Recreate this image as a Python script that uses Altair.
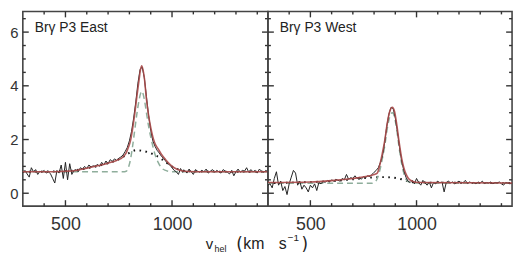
import altair as alt
import pandas as pd

# velocity grid of the spectra (km/s)
vel = list(range(300, 1460, 10))

east_flux = [0.75, 0.85, 0.72, 0.60, 0.95, 0.80, 0.88, 0.70, 0.82, 0.78, 0.85, 0.75, 0.80, 0.72, 0.55,
             0.38, 0.85, 0.75, 1.05, 0.55, 1.15, 0.50, 1.10, 0.70, 0.85, 0.88, 0.80, 0.95, 0.90, 1.00,
             0.92, 1.05, 0.98, 1.02, 1.00, 1.08, 1.00, 1.15, 1.05, 1.20, 1.10, 1.25, 1.18, 1.28, 1.22,
             1.30, 1.35, 1.42, 1.55, 1.70, 1.95, 2.30, 2.80, 3.40, 4.10, 4.60, 4.70, 4.30, 3.60, 2.90,
             2.35, 1.95, 1.75, 1.60, 1.50, 1.38, 1.30, 1.20, 1.10, 1.05, 0.95, 0.85, 0.80, 0.70, 0.92,
             0.78, 0.85, 0.75, 0.90, 0.80, 0.70, 0.88, 0.82, 0.78, 0.85, 0.80, 0.90, 0.75, 0.82, 0.88,
             0.78, 0.85, 0.80, 0.75, 0.88, 0.82, 0.78, 0.72, 0.85, 0.65, 0.80, 0.90, 0.78, 0.85, 0.82,
             0.95, 0.78, 0.88, 0.80, 0.85, 0.75, 0.90, 0.82, 0.78, 0.85, 0.80]

west_flux = [0.30, 0.35, 0.20, 0.55, 0.80, 0.30, 0.45, 0.10, 0.25, -0.05, 0.35, 0.60, 0.85, 0.75, 0.30,
             0.45, 0.15, 0.30, 0.20, 0.05, 0.30, 0.20, 0.35, 0.10, 0.40, 0.35, 0.45, 0.40, 0.48, 0.42,
             0.50, 0.45, 0.52, 0.48, 0.45, 0.55, 0.50, 0.70, 0.52, 0.58, 0.55, 0.65, 0.55, 0.60, 0.52,
             0.62, 0.58, 0.65, 0.62, 0.70, 0.78, 0.85, 0.95, 1.15, 1.40, 1.90, 2.50, 2.95, 3.20, 3.15,
             2.80, 2.30, 1.70, 1.20, 0.85, 0.60, 0.45, 0.40, 0.48, 0.35, 0.55, 0.40, 0.30, 0.48, 0.38,
             0.30, 0.42, 0.20, 0.40, 0.35, 0.45, 0.38, 0.42, 0.05, 0.40, 0.45, 0.38, 0.42, 0.35, 0.40,
             0.45, 0.38, 0.40, 0.48, 0.36, 0.42, 0.38, 0.40, 0.35, 0.42, 0.38, 0.45, 0.36, 0.40, 0.38,
             0.42, 0.35, 0.40, 0.38, 0.42, 0.35, 0.30, 0.40, 0.38, 0.35, 0.38]

# total fit (red)
east_fit_v = [300, 400, 500, 550, 600, 650, 700, 740, 770, 785, 795, 805, 815, 825, 835, 845, 852, 858,
              870, 880, 890, 900, 910, 920, 935, 950, 970, 990, 1010, 1040, 1080, 1150, 1450]
east_fit_f = [0.80, 0.80, 0.82, 0.85, 0.93, 1.02, 1.12, 1.22, 1.35, 1.50, 1.70, 1.95, 2.40, 2.95, 3.60,
              4.20, 4.60, 4.75, 4.30, 3.50, 2.90, 2.45, 2.10, 1.85, 1.65, 1.45, 1.25, 1.08, 0.95, 0.85,
              0.81, 0.80, 0.80]
# narrow component (dashed)
east_nar_v = [300, 770, 785, 795, 805, 815, 825, 835, 845, 852, 858, 870, 880, 890, 900, 910, 920, 935,
              950, 970, 990, 1010, 1450]
east_nar_f = [0.80, 0.80, 0.82, 0.95, 1.25, 1.75, 2.35, 2.95, 3.45, 3.70, 3.80, 3.50, 3.00, 2.50, 2.10,
              1.75, 1.45, 1.15, 0.95, 0.85, 0.81, 0.80, 0.80]
# broad component (dotted)
east_brd_v = [300, 500, 600, 700, 760, 800, 830, 860, 890, 920, 950, 980, 1010, 1050, 1100, 1450]
east_brd_f = [0.80, 0.82, 0.93, 1.12, 1.30, 1.50, 1.60, 1.58, 1.52, 1.42, 1.28, 1.10, 0.95, 0.85, 0.81, 0.80]

west_fit_v = [300, 500, 600, 700, 760, 800, 815, 827, 838, 850, 862, 874, 886, 896, 906, 918, 930, 940,
              950, 962, 980, 1010, 1450]
west_fit_f = [0.40, 0.42, 0.47, 0.55, 0.62, 0.70, 0.75, 1.05, 1.45, 1.95, 2.60, 3.05, 3.20, 3.05, 2.60,
              1.90, 1.30, 0.95, 0.72, 0.55, 0.45, 0.40, 0.38]
west_nar_v = [300, 790, 805, 815, 827, 838, 850, 862, 874, 886, 896, 906, 918, 930, 940, 950, 962, 980,
              1450]
west_nar_f = [0.37, 0.37, 0.42, 0.55, 0.85, 1.25, 1.75, 2.40, 2.85, 3.00, 2.85, 2.40, 1.70, 1.10, 0.75,
              0.52, 0.42, 0.38, 0.37]
west_brd_v = [300, 600, 700, 780, 840, 890, 930, 960, 1000, 1450]
west_brd_f = [0.38, 0.45, 0.52, 0.58, 0.60, 0.58, 0.52, 0.45, 0.40, 0.38]

titles = ["Brγ P3  East", "Brγ P3  West"]
x_major = [500, 1000]
x_minor = [400, 600, 700, 800, 900, 1100, 1200, 1300, 1400]
y_major = [0, 2, 4, 6]
y_minor = [0.5, 1, 1.5, 2.5, 3, 3.5, 4.5, 5, 5.5, 6.5]

H = 197
FONT = "Liberation Sans"


def panel(flux, fit_v, fit_f, nar_v, nar_f, brd_v, brd_f, title, show_y, W, with_xtitle):
    xscale = alt.Scale(domain=[300, 1450], nice=False, zero=False)
    yscale = alt.Scale(domain=[-0.48, 6.77], nice=False, zero=False)
    xaxis = alt.Axis(values=x_major, ticks=False, domain=False, grid=False, title=None, format="d",
                     labelFontSize=18, labelPadding=10, labelFont=FONT, labelColor="#333")
    if show_y:
        yaxis = alt.Axis(values=y_major, ticks=False, domain=False, grid=False, title=None,
                         labelFontSize=15, labelPadding=5, labelFont=FONT, labelColor="#333", format="d")
    else:
        yaxis = None
    X = alt.X("v:Q", scale=xscale, axis=xaxis)
    Y = alt.Y("f:Q", scale=yscale, axis=yaxis)
    Xn = alt.X("v:Q", scale=xscale)
    Yn = alt.Y("f:Q", scale=yscale)

    brd = alt.Chart(pd.DataFrame({"v": brd_v, "f": brd_f})).mark_line(
        color="#111", strokeDash=[1.6, 4.5], strokeWidth=2, interpolate="monotone").encode(x=X, y=Y)
    nar = alt.Chart(pd.DataFrame({"v": nar_v, "f": nar_f})).mark_line(
        color="#8fae9c", strokeDash=[6, 4], strokeWidth=1.5, interpolate="monotone").encode(x=Xn, y=Yn)
    dat = alt.Chart(pd.DataFrame({"v": vel, "f": flux})).mark_line(
        color="#222", strokeWidth=1).encode(x=Xn, y=Yn)
    fit = alt.Chart(pd.DataFrame({"v": fit_v, "f": fit_f})).mark_line(
        color="#a84848", strokeWidth=1.6, opacity=0.9, interpolate="monotone").encode(x=Xn, y=Yn)

    tick_col = "#333"
    xmaj = pd.DataFrame({"v": x_major})
    xmin = pd.DataFrame({"v": x_minor})
    ymaj = pd.DataFrame({"f": y_major})
    ymin = pd.DataFrame({"f": y_minor})
    ticks = []
    for df, L in [(xmaj, 6), (xmin, 3)]:
        ticks.append(alt.Chart(df).mark_rule(color=tick_col, strokeWidth=1.4).encode(
            x=Xn, y=alt.value(H), y2=alt.value(H - L)))
        ticks.append(alt.Chart(df).mark_rule(color=tick_col, strokeWidth=1.4).encode(
            x=Xn, y=alt.value(0), y2=alt.value(L)))
    for df, L in [(ymaj, 6), (ymin, 3)]:
        ticks.append(alt.Chart(df).mark_rule(color=tick_col, strokeWidth=1.4).encode(
            y=Yn, x=alt.value(0), x2=alt.value(L)))
        ticks.append(alt.Chart(df).mark_rule(color=tick_col, strokeWidth=1.4).encode(
            y=Yn, x=alt.value(W), x2=alt.value(W - L)))

    label = alt.Chart(pd.DataFrame({"t": [0]})).mark_text(
        align="left", baseline="alphabetic", fontSize=14, font=FONT, color="#222").encode(
        x=alt.value(12), y=alt.value(21), text=alt.value(title))

    layers = [brd, nar, dat, fit] + ticks + [label]

    if with_xtitle:
        parts = [("v", 185, 240, 15, FONT), ("hel", 194, 243, 9, FONT),
                 ("(", 216, 241, 17, "DejaVu Sans"), ("km", 223, 240, 16, FONT),
                 ("s", 259, 240, 16, FONT), ("−1", 268, 232, 10, FONT),
                 (")", 282, 241, 17, "DejaVu Sans")]
        for txt, px, py, fs, fnt in parts:
            layers.append(alt.Chart(pd.DataFrame({"t": [0]})).mark_text(
                align="left", baseline="alphabetic", fontSize=fs, font=fnt, color="#222").encode(
                x=alt.value(px), y=alt.value(py), text=alt.value(txt)))

    return alt.layer(*layers).properties(width=W, height=H)


left = panel(east_flux, east_fit_v, east_fit_f, east_nar_v, east_nar_f, east_brd_v, east_brd_f,
             titles[0], True, 248, True)
right = panel(west_flux, west_fit_v, west_fit_f, west_nar_v, west_nar_f, west_brd_v, west_brd_f,
              titles[1], False, 247, False)

chart = alt.hconcat(left, right, spacing=0, bounds="flush").properties(
    padding={"left": 0, "top": 0, "right": 0, "bottom": 0},
).configure_view(stroke="#444", strokeWidth=1.6)

chart.save("out.html", embed_options={"renderer": "svg", "actions": False})
